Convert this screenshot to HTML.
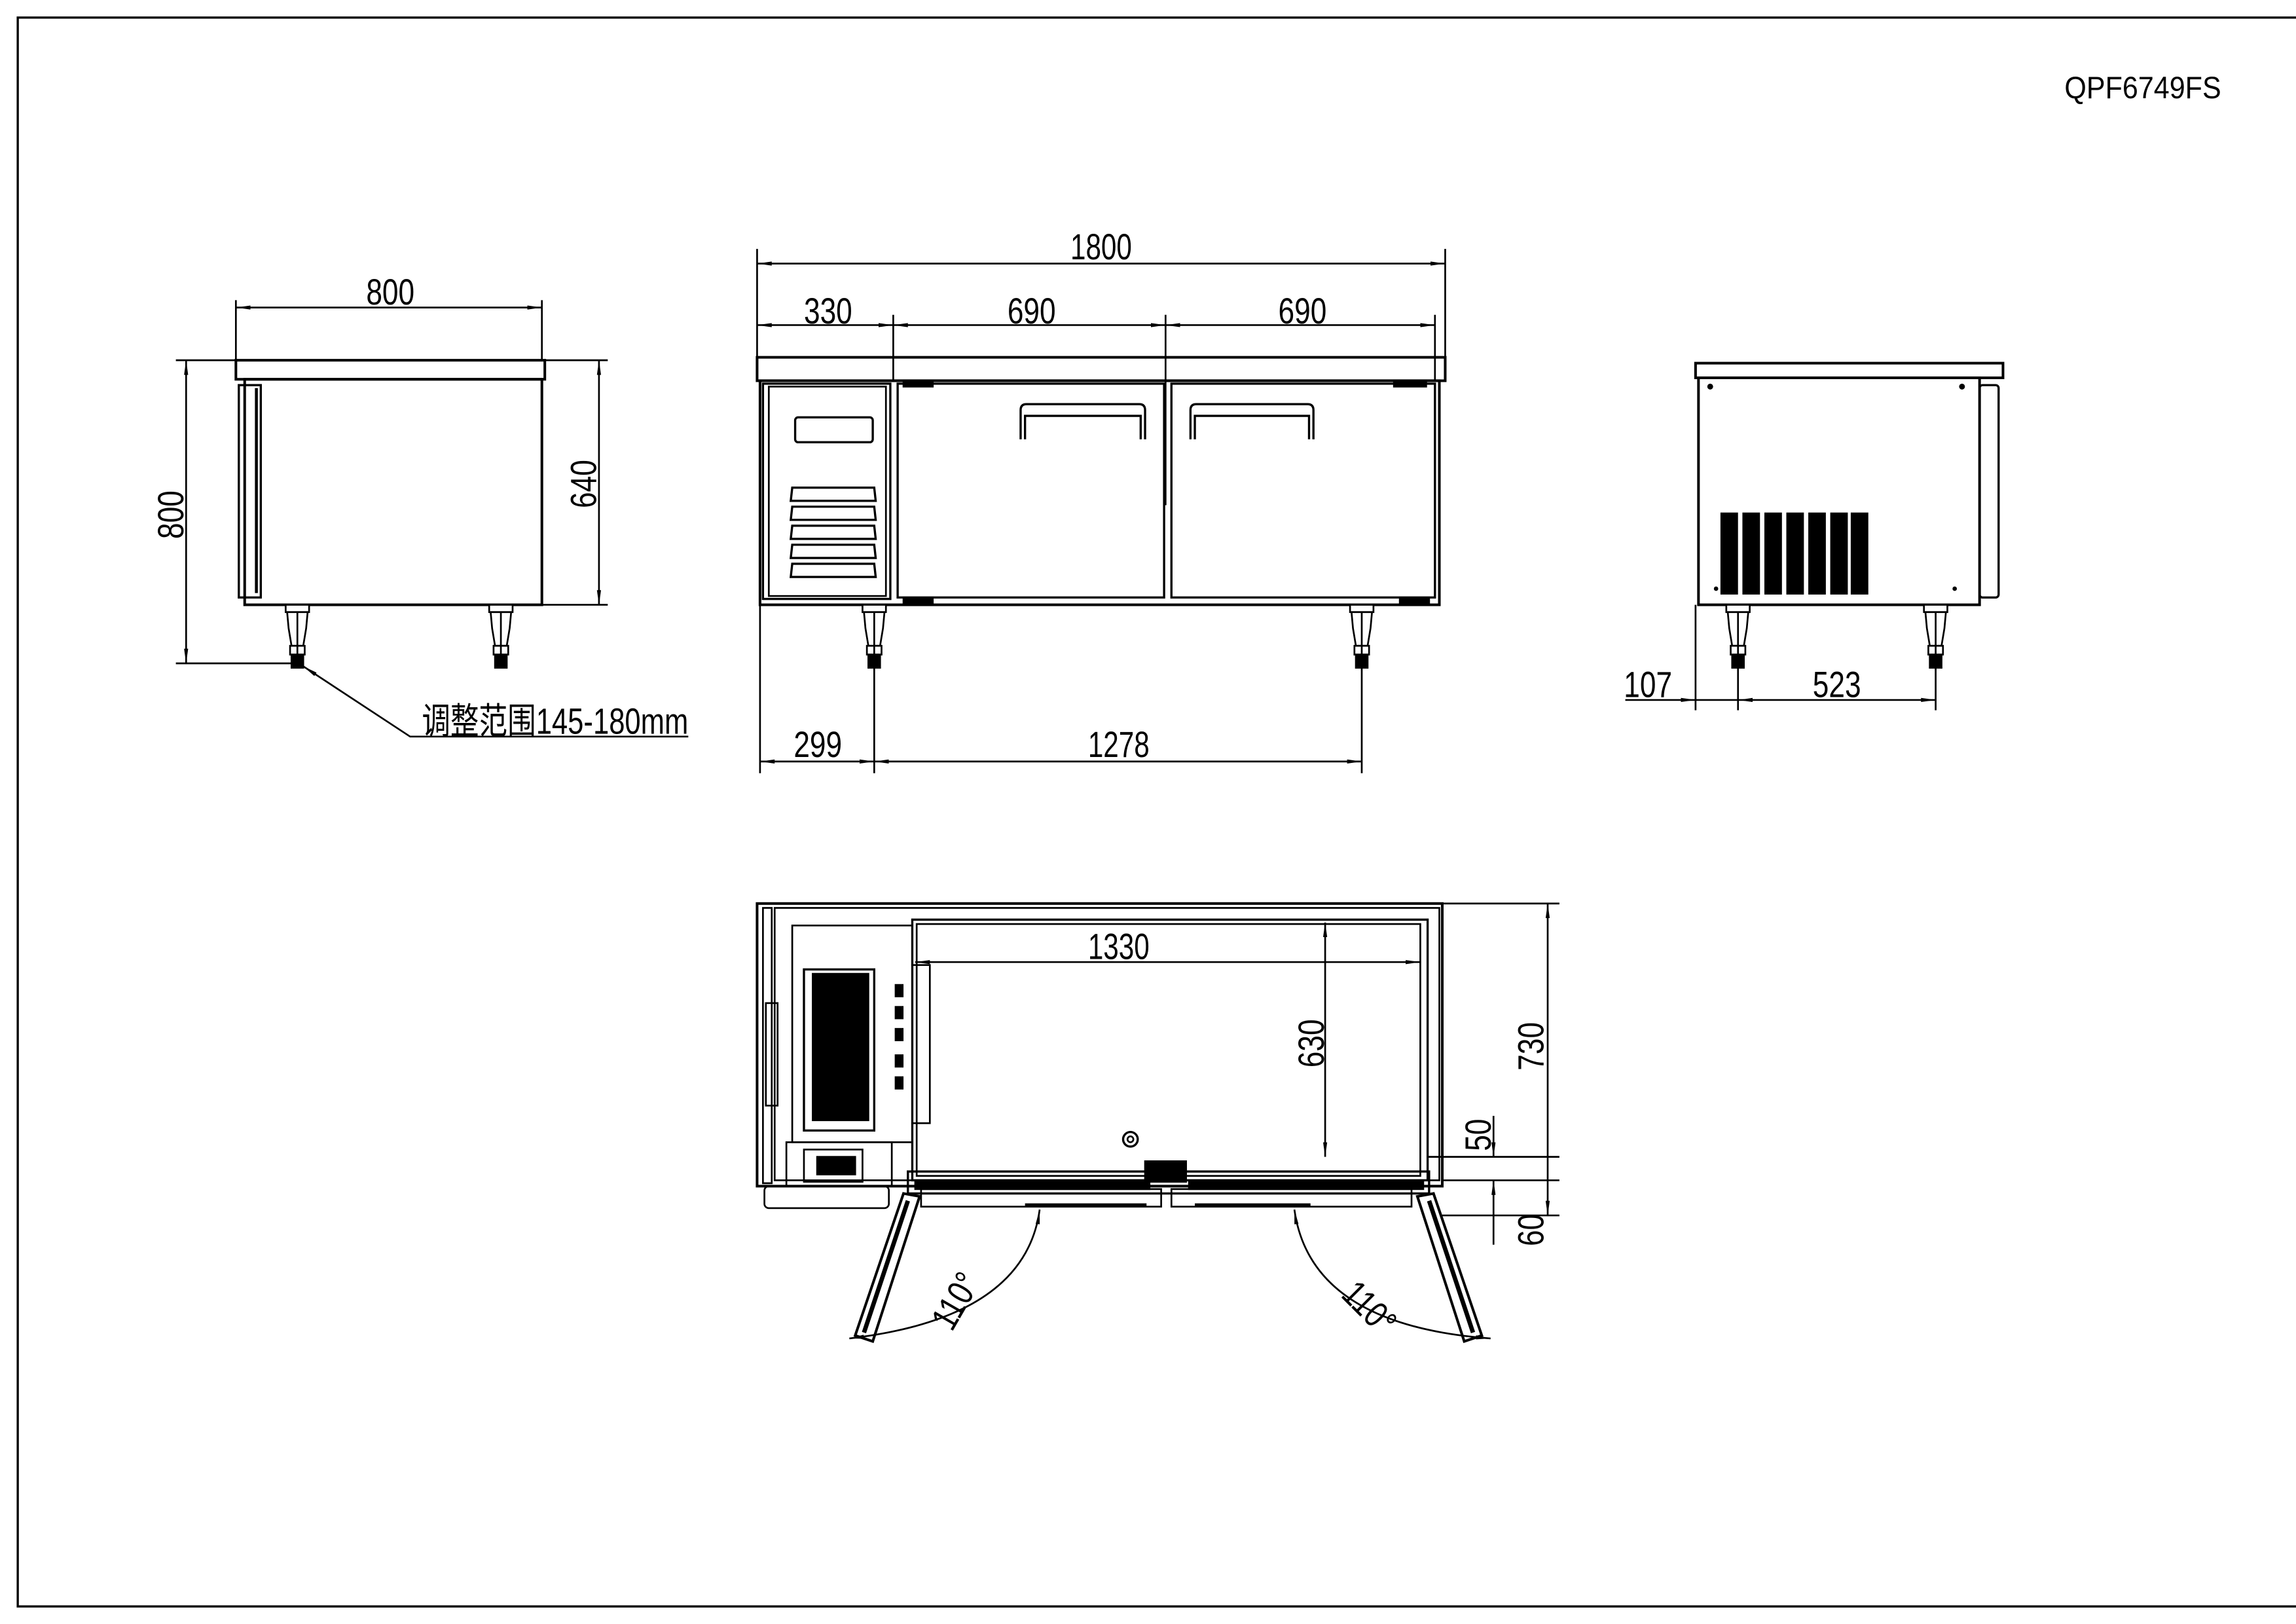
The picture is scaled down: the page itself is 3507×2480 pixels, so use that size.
<!DOCTYPE html>
<html><head><meta charset="utf-8"><style>
html,body{margin:0;padding:0;background:#fff}
svg{display:block}
text{font-family:"Liberation Sans","Noto Sans CJK SC",sans-serif;fill:#000}
</style></head><body>
<svg width="3507" height="2480" viewBox="0 0 1568 1109" xmlns="http://www.w3.org/2000/svg">
<defs>
<marker id="a" viewBox="0 0 10 4" refX="10" refY="2" markerWidth="10" markerHeight="4" orient="auto-start-reverse" markerUnits="userSpaceOnUse"><path d="M0,0.6 L10,2 L0,3.4z" fill="#000"/></marker>
<g id="leg" fill="#fff" stroke="#000" stroke-width="1.2">
<rect x="-8" y="0" width="16" height="5"/>
<path d="M-7,5 L7,5 L6,16 L4,28 L-4,28 L-6,16z"/>
<rect x="-5" y="28" width="10" height="6"/>
<rect x="-4" y="34" width="8" height="9" fill="#000"/>
<line x1="0" y1="5" x2="0" y2="34"/>
</g>
</defs>
<g fill="none" stroke="#000" stroke-width="1.2">
<rect x="12" y="12" width="1600" height="1085" stroke-width="1.5"/>

<rect x="161" y="246" width="211" height="13" stroke-width="1.8"/>
<rect x="167" y="259" width="203" height="154" stroke-width="1.8"/>
<rect x="163" y="263" width="15" height="145" stroke-width="1.5"/>
<line x1="175" y1="265" x2="175" y2="405" stroke-width="2"/>
<use href="#leg" x="203" y="413"/><use href="#leg" x="342" y="413"/>
<line x1="161" y1="205" x2="161" y2="246"/><line x1="370" y1="205" x2="370" y2="246"/>
<line x1="161" y1="210" x2="370" y2="210" marker-start="url(#a)" marker-end="url(#a)"/>
<line x1="120" y1="246" x2="161" y2="246"/><line x1="120" y1="453" x2="205" y2="453"/>
<line x1="127" y1="246" x2="127" y2="453" marker-start="url(#a)" marker-end="url(#a)"/>
<line x1="372" y1="246" x2="415" y2="246"/><line x1="370" y1="413" x2="415" y2="413"/>
<line x1="409" y1="246" x2="409" y2="413" marker-start="url(#a)" marker-end="url(#a)"/>
<polyline points="207,455 280,503 470,503" marker-start="url(#a)"/>

<rect x="517" y="244" width="470" height="16" stroke-width="1.8"/>
<rect x="519" y="260" width="464" height="153" stroke-width="1.8"/>
<rect x="521" y="262" width="87" height="147" stroke-width="1.5"/>
<rect x="525" y="264" width="80" height="143"/>
<rect x="543" y="285" width="53" height="17" rx="2" stroke-width="1.5"/>
<g stroke-width="1.5">
<path d="M541,333 L597,333 L598,342 L540,342z"/>
<path d="M541,346 L597,346 L598,355 L540,355z"/>
<path d="M541,359 L597,359 L598,368 L540,368z"/>
<path d="M541,372 L597,372 L598,381 L540,381z"/>
<path d="M541,385 L597,385 L598,394 L540,394z"/>
</g>
<rect x="613" y="262" width="182" height="146" stroke-width="1.5"/>
<rect x="800" y="262" width="180" height="146" stroke-width="1.5"/>
<path d="M697,300 L697,280 Q697,276 701,276 L778,276 Q782,276 782,280 L782,300 M700,300 L700,284 L779,284 L779,300" stroke-width="1.5"/>
<path d="M813,300 L813,280 Q813,276 817,276 L893,276 Q897,276 897,280 L897,300 M816,300 L816,284 L894,284 L894,300" stroke-width="1.5"/>
<rect x="617" y="408" width="20" height="5" fill="#000"/><rect x="956" y="408" width="20" height="5" fill="#000"/>
<rect x="617" y="260" width="20" height="4" fill="#000"/><rect x="952" y="260" width="22" height="4" fill="#000"/>
<use href="#leg" x="597" y="413"/><use href="#leg" x="930" y="413"/>
<line x1="517" y1="170" x2="517" y2="244"/><line x1="987" y1="170" x2="987" y2="244"/>
<line x1="517" y1="180" x2="987" y2="180" marker-start="url(#a)" marker-end="url(#a)"/>
<line x1="610" y1="215" x2="610" y2="260"/><line x1="796" y1="215" x2="796" y2="345"/><line x1="980" y1="215" x2="980" y2="260"/>
<line x1="517" y1="222" x2="610" y2="222" marker-start="url(#a)" marker-end="url(#a)"/>
<line x1="610" y1="222" x2="796" y2="222" marker-start="url(#a)" marker-end="url(#a)"/>
<line x1="796" y1="222" x2="980" y2="222" marker-start="url(#a)" marker-end="url(#a)"/>
<line x1="519" y1="413" x2="519" y2="528"/><line x1="597" y1="456" x2="597" y2="528"/><line x1="930" y1="456" x2="930" y2="528"/>
<line x1="519" y1="520" x2="597" y2="520" marker-start="url(#a)" marker-end="url(#a)"/>
<line x1="597" y1="520" x2="930" y2="520" marker-start="url(#a)" marker-end="url(#a)"/>

<rect x="1158" y="248" width="210" height="10" stroke-width="1.8"/>
<rect x="1160" y="258" width="192" height="155" stroke-width="1.8"/>
<rect x="1352" y="263" width="13" height="145" rx="2" stroke-width="1.5"/>
<g fill="#000" stroke="none">
<rect x="1175" y="350" width="12" height="56"/><rect x="1190" y="350" width="12" height="56"/><rect x="1205" y="350" width="12" height="56"/><rect x="1220" y="350" width="12" height="56"/><rect x="1235" y="350" width="12" height="56"/><rect x="1250" y="350" width="12" height="56"/><rect x="1264" y="350" width="12" height="56"/>
<circle cx="1168" cy="264" r="2"/><circle cx="1340" cy="264" r="2"/><circle cx="1172" cy="402" r="1.5"/><circle cx="1335" cy="402" r="1.5"/>
</g>
<use href="#leg" x="1187" y="413"/><use href="#leg" x="1322" y="413"/>
<line x1="1158" y1="413" x2="1158" y2="485"/><line x1="1187" y1="456" x2="1187" y2="485"/><line x1="1322" y1="456" x2="1322" y2="485"/>
<line x1="1110" y1="478" x2="1158" y2="478" marker-end="url(#a)"/>
<line x1="1158" y1="478" x2="1187" y2="478"/>
<line x1="1187" y1="478" x2="1322" y2="478" marker-start="url(#a)" marker-end="url(#a)"/>

<rect x="517" y="617" width="468" height="193" stroke-width="1.8"/>
<rect x="521" y="620" width="6" height="188"/>
<rect x="529" y="620" width="454" height="186"/>
<rect x="623" y="628" width="352" height="178" stroke-width="1.5"/>
<rect x="626" y="631" width="344" height="172"/>
<rect x="541" y="632" width="82" height="148"/>
<rect x="549" y="662" width="48" height="110" stroke-width="1.5"/>
<rect x="555" y="665" width="38" height="100" fill="#000"/>
<rect x="623" y="659" width="12" height="108"/>
<g fill="#000" stroke="none">
<rect x="611" y="672" width="6" height="9"/><rect x="611" y="687" width="6" height="9"/><rect x="611" y="702" width="6" height="9"/><rect x="611" y="720" width="6" height="9"/><rect x="611" y="735" width="6" height="9"/>
</g>
<rect x="537" y="780" width="72" height="30"/>
<rect x="549" y="785" width="40" height="22"/>
<rect x="558" y="790" width="26" height="12" fill="#000"/>
<rect x="522" y="810" width="85" height="15" rx="3"/>
<rect x="523" y="685" width="8" height="70"/>
<rect x="620" y="800" width="356" height="15" stroke-width="1.5"/>
<rect x="782" y="793" width="28" height="14" fill="#000"/>
<rect x="625" y="806" width="160" height="6" fill="#000"/>
<rect x="812" y="806" width="160" height="6" fill="#000"/>
<rect x="629" y="812" width="164" height="12"/>
<rect x="800" y="812" width="164" height="12"/>
<line x1="700" y1="823" x2="783" y2="823" stroke-width="2.5"/>
<line x1="816" y1="823" x2="895" y2="823" stroke-width="2.5"/>
<circle cx="772" cy="778" r="5" stroke-width="1.5"/><circle cx="772" cy="778" r="2"/>
<path d="M617,815 L628,817 L596,916 L584,912z" stroke-width="1.8"/>
<path d="M620,820 L590,910" stroke-width="3"/>
<path d="M979,815 L968,817 L1000,916 L1012,912z" stroke-width="1.8"/>
<path d="M976,820 L1006,910" stroke-width="3"/>
<path d="M710,826 Q700,900 580,914" marker-start="url(#a)" marker-end="url(#a)"/>
<path d="M884,826 Q895,905 1018,914" marker-start="url(#a)" marker-end="url(#a)"/>
<line x1="625" y1="657" x2="970" y2="657" marker-start="url(#a)" marker-end="url(#a)"/>
<line x1="905" y1="630" x2="905" y2="790" marker-start="url(#a)" marker-end="url(#a)"/>
<line x1="985" y1="617" x2="1065" y2="617"/>
<line x1="975" y1="790" x2="1065" y2="790"/>
<line x1="985" y1="806" x2="1065" y2="806"/>
<line x1="985" y1="830" x2="1065" y2="830"/>
<line x1="1057" y1="617" x2="1057" y2="830" marker-start="url(#a)" marker-end="url(#a)"/>
<line x1="1020" y1="762" x2="1020" y2="790" marker-end="url(#a)"/>
<line x1="1020" y1="806" x2="1020" y2="850" marker-start="url(#a)"/>
</g>

<g font-size="25">
<text x="1410" y="67" font-size="21" textLength="107" lengthAdjust="spacingAndGlyphs">QPF6749FS</text>
<text x="250" y="208" textLength="33" lengthAdjust="spacingAndGlyphs">800</text>
<text transform="translate(125,368) rotate(-90)" textLength="33" lengthAdjust="spacingAndGlyphs">800</text>
<text transform="translate(407,347) rotate(-90)" textLength="33" lengthAdjust="spacingAndGlyphs">640</text>
<text x="288" y="501" textLength="182" lengthAdjust="spacingAndGlyphs">调整范围145-180mm</text>
<text x="731" y="177" textLength="42" lengthAdjust="spacingAndGlyphs">1800</text>
<text x="549" y="221" textLength="33" lengthAdjust="spacingAndGlyphs">330</text>
<text x="688" y="221" textLength="33" lengthAdjust="spacingAndGlyphs">690</text>
<text x="873" y="221" textLength="33" lengthAdjust="spacingAndGlyphs">690</text>
<text x="542" y="517" textLength="33" lengthAdjust="spacingAndGlyphs">299</text>
<text x="743" y="517" textLength="42" lengthAdjust="spacingAndGlyphs">1278</text>
<text x="1109" y="476" textLength="33" lengthAdjust="spacingAndGlyphs">107</text>
<text x="1238" y="476" textLength="33" lengthAdjust="spacingAndGlyphs">523</text>
<text x="743" y="655" textLength="42" lengthAdjust="spacingAndGlyphs">1330</text>
<text transform="translate(904,729) rotate(-90)" textLength="33" lengthAdjust="spacingAndGlyphs">630</text>
<text transform="translate(1054,731) rotate(-90)" textLength="33" lengthAdjust="spacingAndGlyphs">730</text>
<text transform="translate(1018,786) rotate(-90)" textLength="22" lengthAdjust="spacingAndGlyphs">50</text>
<text transform="translate(1054,851) rotate(-90)" textLength="22" lengthAdjust="spacingAndGlyphs">60</text>
<text transform="translate(650,910) rotate(-60)" textLength="40" lengthAdjust="spacingAndGlyphs">110°</text>
<text transform="translate(915,885) rotate(45)" textLength="40" lengthAdjust="spacingAndGlyphs">110°</text>
</g>
</svg>
</body></html>
